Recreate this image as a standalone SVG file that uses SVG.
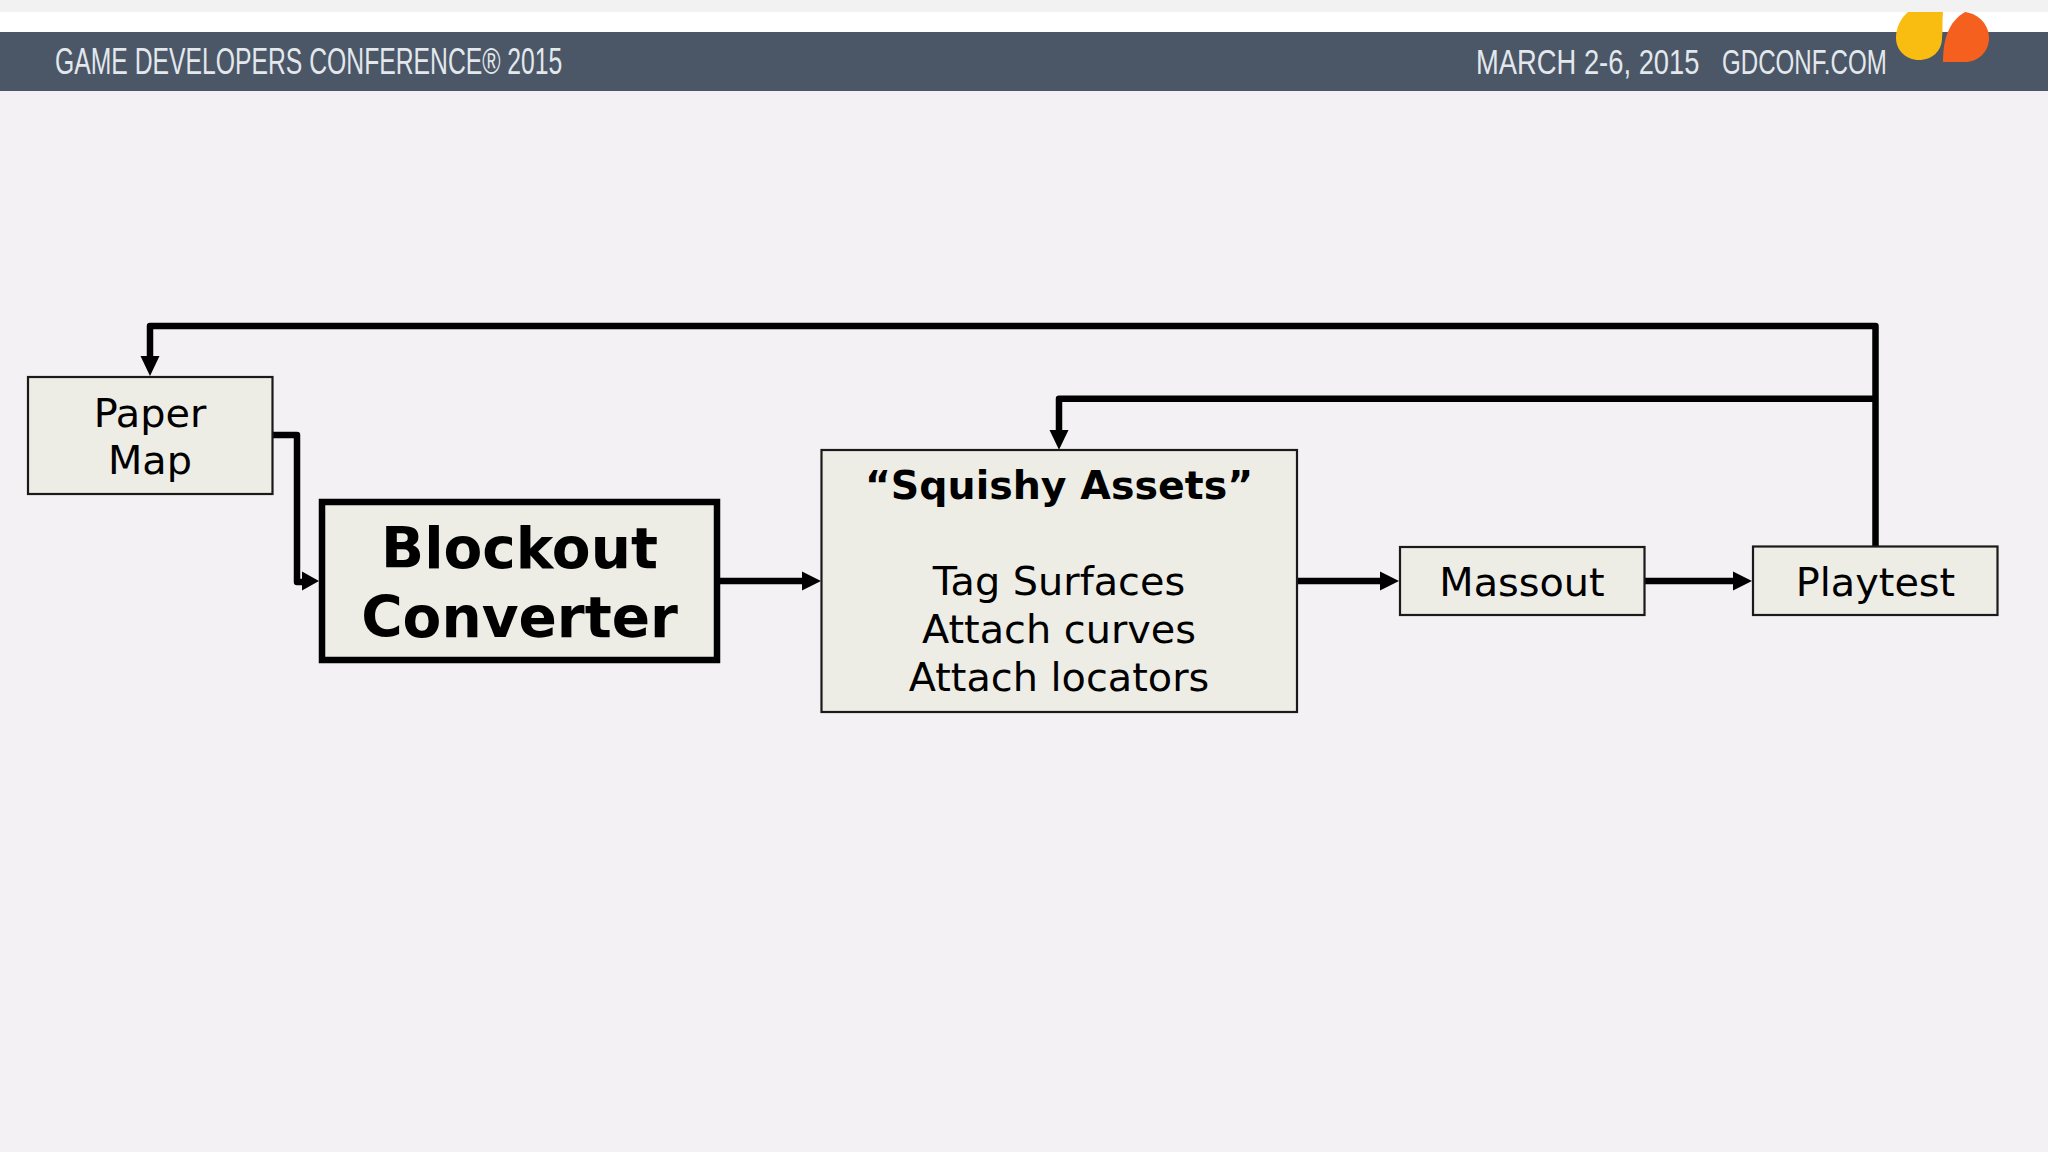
<svg xmlns="http://www.w3.org/2000/svg" width="2048" height="1152" viewBox="0 0 2048 1152">
<style>
.box{fill:#edede5;stroke:#1a1a1a;stroke-width:2.2}
.line{fill:none;stroke:#000;stroke-width:6.5;stroke-linejoin:round}
.t{font-family:"DejaVu Sans",sans-serif;font-size:39.800px;text-anchor:middle;fill:#000}
.b{font-weight:bold;font-size:39.500px}
.l{font-size:56.500px}
.h{font-family:"Liberation Sans",sans-serif;font-size:36px;fill:#e2e8ec}
</style>
<rect width="2048" height="1152" fill="#f3f1f3"/>
<rect width="2048" height="12" fill="#f2f2f2"/>
<rect y="12" width="2048" height="20" fill="#fff"/>
<rect y="32" width="2048" height="59" fill="#4b5667"/>
<g id="header">
<text class="h" transform="translate(55 74) scale(.687 1)">GAME DEVELOPERS CONFERENCE® 2015</text>
<text class="h" transform="translate(1476 74) scale(.76 1)">MARCH 2-6, 2015</text>
<text class="h" transform="translate(1722 74) scale(.67 1)">GDCONF.COM</text>
<path d="M1908 12H1943C1942 22 1943 30 1942 38C1942 51 1932 60 1919 60C1906 60 1896 50 1896 38C1896 27 1901 18 1908 12Z" fill="#f9bd12"/>
<path d="M1943 62C1943 40 1948 22 1965 12C1980 14 1989 26 1989 38C1989 52 1978 62 1965 62Z" fill="#f6601f"/>
</g>
<g id="connectors">
<path class="line" d="M1875.500 546V326H150V357"/>
<path class="line" d="M1875.500 398.700H1059V430"/>
<path class="line" d="M273 435H297V582H303"/>
<path d="M150 376L140.500 356H159.500Z"/>
<path d="M1059 449.700L1049.500 430H1068.500Z"/>
<path d="M319 581L302 571.500V590.500Z"/>
<path class="line" d="M720 581H803"/>
<path d="M821 581L802 571.500V590.500Z"/>
<path class="line" d="M1297 581H1381"/>
<path d="M1399 581L1380 571.500V590.500Z"/>
<path class="line" d="M1645 581H1735"/>
<path d="M1752 581L1733 571.500V590.500Z"/>
</g>
<g id="paper-map">
<rect class="box" x="28" y="377" width="244.500" height="117"/>
<text class="t" x="150" y="427">Paper</text>
<text class="t" x="150" y="474">Map</text>
</g>
<g id="blockout-converter">
<rect class="box" style="stroke:#000;stroke-width:6.500" x="322" y="502" width="395" height="158"/>
<text class="t b l" x="519.500" y="568">Blockout</text>
<text class="t b l" x="519.500" y="636.500">Converter</text>
</g>
<g id="squishy-assets">
<rect class="box" x="821.500" y="450" width="475.500" height="262"/>
<text class="t b" x="1059" y="499">“Squishy Assets”</text>
<text class="t" x="1059" y="595">Tag Surfaces</text>
<text class="t" x="1059" y="643">Attach curves</text>
<text class="t" x="1059" y="691">Attach locators</text>
</g>
<g id="massout">
<rect class="box" x="1400" y="547" width="244.500" height="68"/>
<text class="t" x="1522" y="596">Massout</text>
</g>
<g id="playtest">
<rect class="box" x="1753" y="546.500" width="244.500" height="68.500"/>
<text class="t" x="1875.500" y="595.500">Playtest</text>
</g>
</svg>
